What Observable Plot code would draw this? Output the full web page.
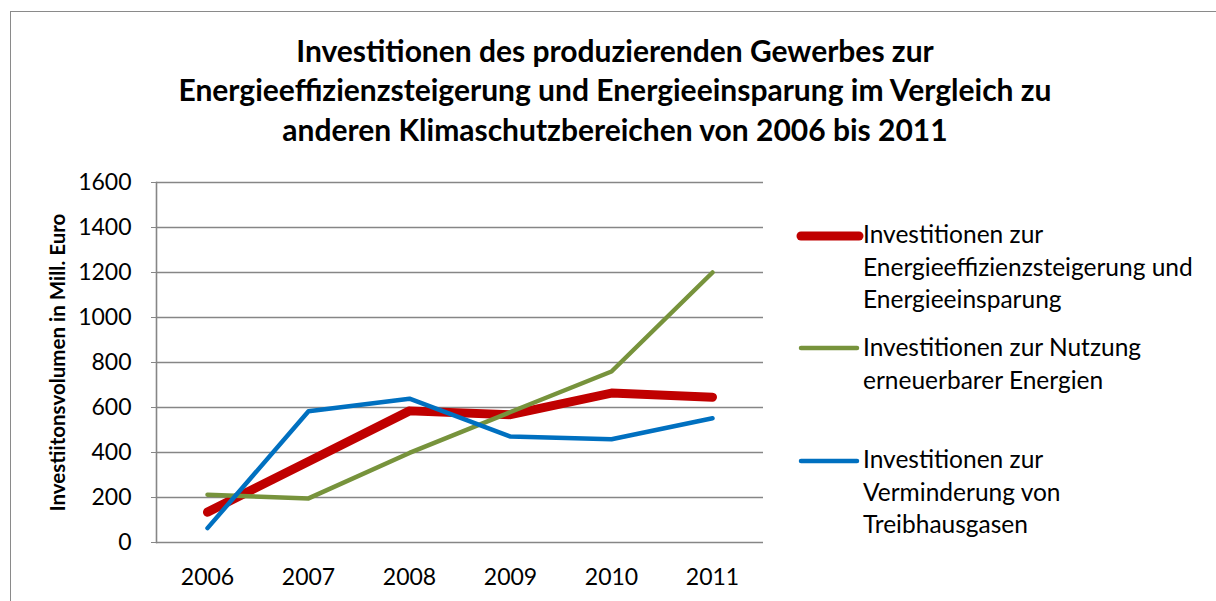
<!DOCTYPE html>
<html>
<head>
<meta charset="utf-8">
<script src="https://cdn.jsdelivr.net/npm/d3@7"></script>
<script src="https://cdn.jsdelivr.net/npm/@observablehq/plot@0.6"></script>
<style>
  html, body { margin: 0; padding: 0; background: #fff; }
  #page { position: relative; width: 1216px; height: 601px; overflow: hidden; background: #fff; font-family: Lato, "Open Sans", sans-serif; color: #000; }
  #border { position: absolute; left: 10px; top: 11px; width: 1300px; height: 700px; border-left: 1.5px solid #8a8a8a; border-top: 1.5px solid #8a8a8a; box-sizing: border-box; }
  #title { position: absolute; left: 0; width: 1230px; top: 30.5px; text-align: center; font-weight: bold; font-size: 30px; line-height: 39.5px; white-space: nowrap; }
  #chart { position: absolute; left: 0; top: 160px; }
  .leg { position: absolute; left: 863px; font-size: 24.5px; line-height: 32.3px; white-space: nowrap; }
  .sw { position: absolute; overflow: visible; }
</style>
</head>
<body>
<div id="page">
  <div id="border"></div>
  <div id="title"></div>
  <div id="chart"></div>
  <div id="legend"></div>
</div>
<script>
// ---- data ----
const titleLines = [
  "Investitionen des produzierenden Gewerbes zur",
  "Energieeffizienzsteigerung und Energieeinsparung im Vergleich zu",
  "anderen Klimaschutzbereichen von 2006 bis 2011"
];
const yLabel = "Investiitonsvolumen in Mill. Euro";
const years = ["2006", "2007", "2008", "2009", "2010", "2011"];
const yTicks = [0, 200, 400, 600, 800, 1000, 1200, 1400, 1600];
const seriesNames = [
  ["Investitionen zur", "Energieeffizienzsteigerung und", "Energieeinsparung"],
  ["Investitionen zur Nutzung", "erneuerbarer Energien"],
  ["Investitionen zur", "Verminderung von", "Treibhausgasen"]
];
const effizienz = [135, 360, 585, 568, 664, 646];
const erneuerbar = [212, 196, 398, 580, 760, 1200];
const treibhaus = [64, 583, 639, 471, 459, 552];
const colors = ["#C00000", "#77933C", "#0070C0"];
const widths = [9, 4.5, 4.5];

// ---- title ----
document.getElementById("title").innerHTML = titleLines.map(t => `<div>${t}</div>`).join("");

// ---- chart ----
const seriesValues = [effizienz, erneuerbar, treibhaus];
const tables = seriesValues.map(vals => years.map((year, i) => ({year, value: vals[i]})));

const chart = Plot.plot({
  width: 780,
  height: 441,
  marginLeft: 156,
  marginRight: 17,
  marginTop: 22,
  marginBottom: 59,
  style: {fontFamily: "Lato, 'Open Sans', sans-serif", fontSize: "23px", color: "#000", background: "transparent", overflow: "visible"},
  x: {type: "point", domain: years, padding: 0.5},
  y: {domain: [0, 1600]},
  marks: [
    Plot.ruleY(yTicks, {stroke: "#868686", strokeWidth: 1.6}),
    Plot.frame({anchor: "left", stroke: "#868686", strokeWidth: 1.6}),
    Plot.axisY({ticks: yTicks, tickFormat: d => String(d), tickSize: 5, tickPadding: 20, stroke: "#868686", fill: "#000", label: null, fontSize: 23}),
    Plot.axisX({tickSize: 0, tickPadding: 26, label: null, fill: "#000", fontSize: 23}),
    Plot.text([yLabel], {frameAnchor: "left", textAnchor: "middle", rotate: -90, dx: -98, fontWeight: "bold", fontSize: 20.5, fill: "#000"}),
    ...tables.map((t, i) => Plot.line(t, {
      x: "year", y: "value", stroke: colors[i], strokeWidth: widths[i],
      strokeLinecap: "round", strokeLinejoin: "round"
    }))
  ]
});
document.getElementById("chart").appendChild(chart);

// ---- legend ----
const legendTop = [244, 357, 469];   // baseline of first line of each entry
const swatchY = [236, 348, 461];
const legend = document.getElementById("legend");
seriesNames.forEach((lines, i) => {
  const d = document.createElement("div");
  d.className = "leg";
  d.style.top = (legendTop[i] - 25.6) + "px";
  d.innerHTML = lines.map(l => `<div>${l}</div>`).join("");
  legend.appendChild(d);
  const s = d3.create("svg").attr("class", "sw").attr("width", 70).attr("height", 20)
    .style("left", "795px").style("top", (swatchY[i] - 10) + "px");
  s.append("line").attr("x1", 6).attr("x2", i === 0 ? 64 : 62).attr("y1", 10).attr("y2", 10)
    .attr("stroke", colors[i]).attr("stroke-width", widths[i]).attr("stroke-linecap", "round");
  legend.appendChild(s.node());
});
</script>
</body>
</html>
